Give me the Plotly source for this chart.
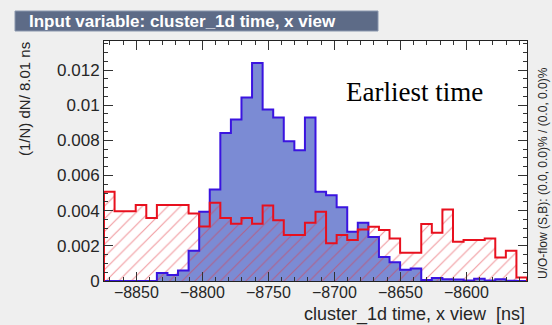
import plotly.graph_objects as go

# ---------------- data ----------------
BIN_LOW = -8874.5      # lower edge of first bin [ns]
BIN_WIDTH = 8.01       # bin width [ns]

signal = [0.0, 0.0, 0.0, 0.0, 0.0,
          0.00045, 0.00034, 0.00060, 0.00172, 0.00394,
          0.00520, 0.00842, 0.00918, 0.01043, 0.01240,
          0.00975, 0.00930, 0.00795, 0.00744, 0.00930,
          0.00507, 0.00488, 0.00420, 0.00280, 0.00331,
          0.00250, 0.00136, 0.00106, 0.00064, 0.00071,
          0.00006, 0.00017, 0.00010, 0.00009, 0.00003,
          0.00013, 0.00003, 0.00010, 0.00002, 0.0]

background = [0.00507, 0.00396, 0.00396, 0.00432, 0.00358,
              0.00432, 0.00432, 0.00432, 0.00384, 0.00310,
              0.00445, 0.00358, 0.00326, 0.00358, 0.00326,
              0.00430, 0.00346, 0.00261, 0.00261, 0.00331,
              0.00394, 0.00214, 0.00261, 0.00233, 0.00293,
              0.00309, 0.00290, 0.00242, 0.00161, 0.00161,
              0.00324, 0.00275, 0.00407, 0.00223, 0.00233,
              0.00233, 0.00242, 0.00134, 0.00172, 0.00020]

x_tick_vals = [-8850, -8800, -8750, -8700, -8650, -8600]
x_tick_text = ["\u22128850", "\u22128800", "\u22128750", "\u22128700", "\u22128650", "\u22128600"]
y_tick_vals = [0, 0.002, 0.004, 0.006, 0.008, 0.010, 0.012]
y_tick_text = ["0", "0.002", "0.004", "0.006", "0.008", "0.01", "0.012"]

Y_MAX = 0.01365


def step(vals):
    n = len(vals)
    edges = [BIN_LOW + i * BIN_WIDTH for i in range(n + 1)]
    xs = [edges[0]] + edges[:n] + [edges[n], edges[n]]
    ys = [0.0] + list(vals) + [vals[-1], 0.0]
    return xs, ys, edges


sx, sy, edges = step(signal)
bx, by, _ = step(background)

SIG_FILL = "#7b8bd4"
SIG_LINE = "#3a14e0"
BKG_LINE = "#e8101e"
BKG_HATCH = "#e23a44"

fig = go.Figure()
fig.add_trace(go.Scatter(x=sx, y=sy, mode="lines", line=dict(width=0, shape="hv"),
                         fill="tozeroy", fillcolor=SIG_FILL, hoverinfo="skip", showlegend=False))
fig.add_trace(go.Scatter(x=bx, y=by, mode="lines", line=dict(width=0, shape="hv"),
                         fill="tozeroy", fillcolor="rgba(0,0,0,0)",
                         fillpattern=dict(shape="/", fgcolor=BKG_HATCH, bgcolor="rgba(0,0,0,0)",
                                          size=9, solidity=0.13),
                         hoverinfo="skip", showlegend=False))
fig.add_trace(go.Scatter(x=sx, y=sy, mode="lines", line=dict(width=2, color=SIG_LINE, shape="hv"),
                         showlegend=False))
fig.add_trace(go.Scatter(x=bx, y=by, mode="lines", line=dict(width=2, color=BKG_LINE, shape="hv"),
                         showlegend=False))

W, H = 552, 325
L, R, T, B = 104, 25, 41, 44
pw, ph = W - L - R, H - T - B


def px(x):
    return (x - L) / pw


def py(y):
    return (H - B - y) / ph


SANS = "Liberation Sans, Arial, sans-serif"
AX_FONT = dict(family=SANS, size=17, color="#262626")
XT_FONT = dict(family=SANS, size=16, color="#262626")

fig.update_layout(
    width=W, height=H,
    margin=dict(l=L, r=R, t=T, b=B, pad=0),
    paper_bgcolor="#efefef",
    plot_bgcolor="white",
    xaxis=dict(range=[edges[0], edges[-1]], tickvals=x_tick_vals, ticktext=x_tick_text,
               ticks="inside", ticklen=9, tickcolor="#333", tickwidth=1,
               minor=dict(dtick=10, tick0=-8850, ticks="inside", ticklen=4, tickcolor="#333"),
               showgrid=False, zeroline=False, showline=True, linecolor="#222", linewidth=1,
               mirror="ticks", tickfont=XT_FONT, ticklabelstandoff=-3),
    yaxis=dict(range=[0, Y_MAX], tickvals=y_tick_vals, ticktext=y_tick_text,
               ticks="inside", ticklen=9, tickcolor="#333", tickwidth=1,
               minor=dict(dtick=0.0005, tick0=0, ticks="inside", ticklen=4, tickcolor="#333"),
               showgrid=False, zeroline=False, showline=True, linecolor="#222", linewidth=1,
               mirror="ticks", tickfont=AX_FONT),
    shapes=[dict(type="rect", xref="paper", yref="paper",
                 x0=px(15), x1=px(378), y0=py(31), y1=py(11),
                 fillcolor="#5d6b87", line=dict(color="#8a97ad", width=1), layer="above")],
    annotations=[
        dict(text="<b>Input variable: cluster_1d time, x view</b>", xref="paper", yref="paper",
             x=px(27), y=py(21), xanchor="left", yanchor="middle", showarrow=False,
             font=dict(family=SANS, size=17, color="white")),
        dict(text="(1/N) dN/ 8.01 ns", xref="paper", yref="paper", textangle=-90,
             x=px(24), y=py(40), xanchor="center", yanchor="top", showarrow=False,
             font=dict(family=SANS, size=15, color="#262626")),
        dict(text="U/O-flow (S,B): (0.0, 0.0)% / (0.0, 0.0)%", xref="paper", yref="paper",
             textangle=-90, x=px(543), y=py(281), xanchor="center", yanchor="bottom",
             showarrow=False,
             font=dict(family=SANS, size=12, color="#262626")),
        dict(text="cluster_1d time, x view  [ns]", xref="paper", yref="paper",
             x=px(527), y=py(314), xanchor="right", yanchor="middle", showarrow=False,
             font=dict(family=SANS, size=18, color="#262626")),
        dict(text="Earliest time", xref="paper", yref="paper",
             x=px(414), y=py(92), xanchor="center", yanchor="middle", showarrow=False,
             font=dict(family="Liberation Serif, Times New Roman, serif", size=27, color="black")),
    ],
)

fig.write_html("out.html")
